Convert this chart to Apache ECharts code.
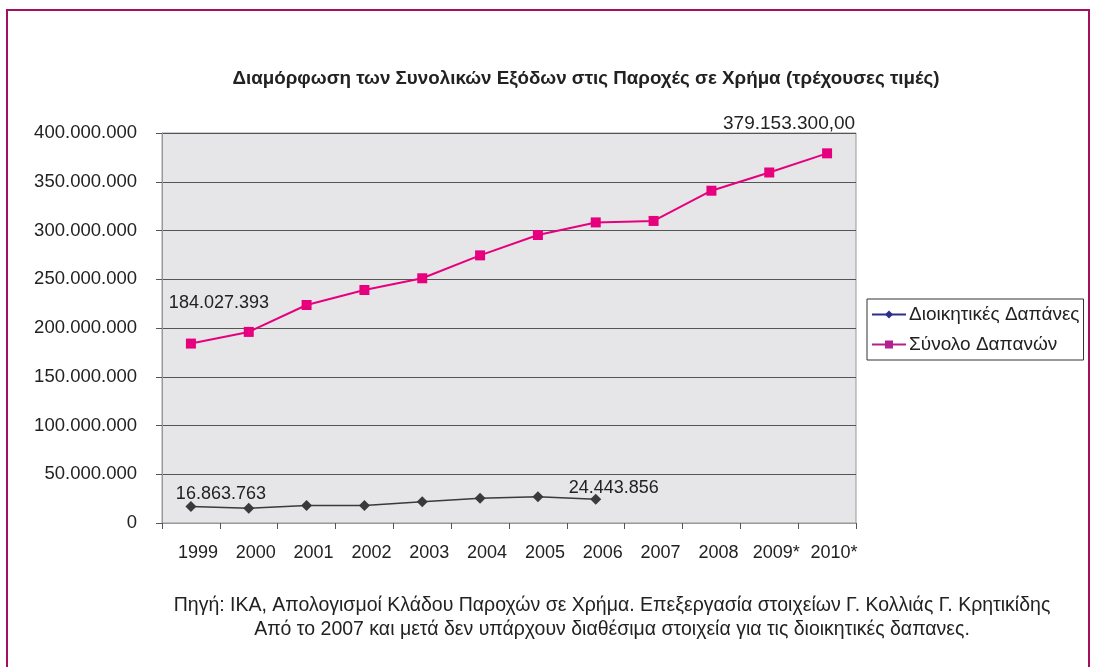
<!DOCTYPE html>
<html>
<head>
<meta charset="utf-8">
<style>
  html, body { margin: 0; padding: 0; background: #fff; }
  #frame { position: absolute; left: 6px; top: 9px; width: 1084px; height: 700px; border: 2px solid #a3105f; box-sizing: border-box; }
  #chart { position: absolute; left: 0; top: 0; width: 1094px; height: 667px; }
</style>
<script src="https://cdn.jsdelivr.net/npm/echarts@6/dist/echarts.min.js"></script>
</head>
<body>
<div id="frame"></div>
<div id="chart"></div>
<script>
const years = ['1999', '2000', '2001', '2002', '2003', '2004', '2005', '2006', '2007', '2008', '2009*', '2010*'];
const adminCosts = [16863763, 15200000, 18000000, 18000000, 21800000, 25500000, 26800000, 24443856];
const totalCosts = [184027393, 196000000, 223600000, 239000000, 251000000, 274500000, 295400000, 308300000, 309800000, 340800000, 359500000, 379153300];
const yTicks = { min: 0, max: 400000000, interval: 50000000 };

const fontFamily = '"Liberation Sans", Arial, sans-serif';

function dots(v) {
    return String(v).replace(/\B(?=(\d{3})+(?!\d))/g, '.');
}

// Excel-style labels only on first / last points
function labelled(values, labels) {
    return values.map((v, i) => {
        const lab = labels[i];
        if (!lab) return v;
        return {
            value: v,
            label: {
                show: true,
                formatter: lab.text,
                offset: lab.offset,
                position: 'top',
                color: '#222',
                fontSize: lab.size || 18,
                fontFamily
            }
        };
    });
}

const chart = echarts.init(document.getElementById('chart'));
chart.setOption({
    animation: false,
    title: [{
        text: 'Διαμόρφωση των Συνολικών Εξόδων στις Παροχές σε Χρήμα (τρέχουσες τιμές)',
        left: 581,
        top: 64,
        textAlign: 'center',
        textStyle: { fontSize: 18.8, fontWeight: 'bold', color: '#222', fontFamily }
    }, {
        text: 'Πηγή: ΙΚΑ, Απολογισμοί Κλάδου Παροχών σε Χρήμα. Επεξεργασία στοιχείων Γ. Κολλιάς Γ. Κρητικίδης\nΑπό το 2007 και μετά δεν υπάρχουν διαθέσιμα στοιχεία για τις διοικητικές δαπανες.',
        left: 607,
        top: 589,
        textAlign: 'center',
        textStyle: { fontSize: 19.5, fontWeight: 'normal', color: '#222', fontFamily, lineHeight: 24, align: 'center' }
    }],
    legend: {
        orient: 'vertical',
        left: 867,
        top: 299,
        padding: [6, 4, 6, 4],
        borderColor: '#333',
        borderWidth: 1,
        itemWidth: 34,
        itemHeight: 10,
        itemGap: 11,
        textStyle: { fontSize: 19, color: '#222', fontFamily, padding: [0, 0, 0, -2] },
        data: [
            { name: 'Διοικητικές Δαπάνες', itemStyle: { color: '#2e2e8c' }, lineStyle: { color: '#2e2e8c' } },
            { name: 'Σύνολο Δαπανών', itemStyle: { color: '#b3208f' }, lineStyle: { color: '#b3208f' } }
        ]
    },
    grid: {
        left: 162,
        right: 238,
        top: 133,
        bottom: 144,
        show: true,
        backgroundColor: '#e6e6e8',
        borderColor: '#999',
        borderWidth: 1
    },
    xAxis: {
        type: 'category',
        data: years,
        boundaryGap: true,
        axisLine: { lineStyle: { color: '#999', width: 1 } },
        axisTick: { show: true, length: 6, lineStyle: { color: '#555' } },
        axisLabel: { fontSize: 18, color: '#222', fontFamily, margin: 21, interval: 0, padding: [0, 0, 0, 14] }
    },
    yAxis: {
        type: 'value',
        min: yTicks.min,
        max: yTicks.max,
        interval: yTicks.interval,
        axisLine: { show: true, lineStyle: { color: '#999', width: 1 } },
        axisTick: { show: true, length: 6, lineStyle: { color: '#555' } },
        axisLabel: { fontSize: 18.5, color: '#222', fontFamily, margin: 25, formatter: v => dots(v) },
        splitLine: { lineStyle: { color: '#555', width: 1 } }
    },
    series: [{
        name: 'Διοικητικές Δαπάνες',
        type: 'line',
        data: labelled(adminCosts, {
            0: { text: '16.863.763', offset: [30, 7] },
            7: { text: '24.443.856', offset: [18, 8] }
        }),
        symbol: 'diamond',
        symbolSize: 11,
        itemStyle: { color: '#3a3a3a' },
        lineStyle: { color: '#3a3a3a', width: 1.5 },
        z: 3
    }, {
        name: 'Σύνολο Δαπανών',
        type: 'line',
        data: labelled(totalCosts, {
            0: { text: '184.027.393', offset: [28, -22] },
            11: { text: '379.153.300,00', offset: [-38, -10], size: 19 }
        }),
        symbol: 'rect',
        symbolSize: 10,
        itemStyle: { color: '#e6007e' },
        lineStyle: { color: '#e6007e', width: 2 },
        z: 3
    }]
});
</script>
</body>
</html>
